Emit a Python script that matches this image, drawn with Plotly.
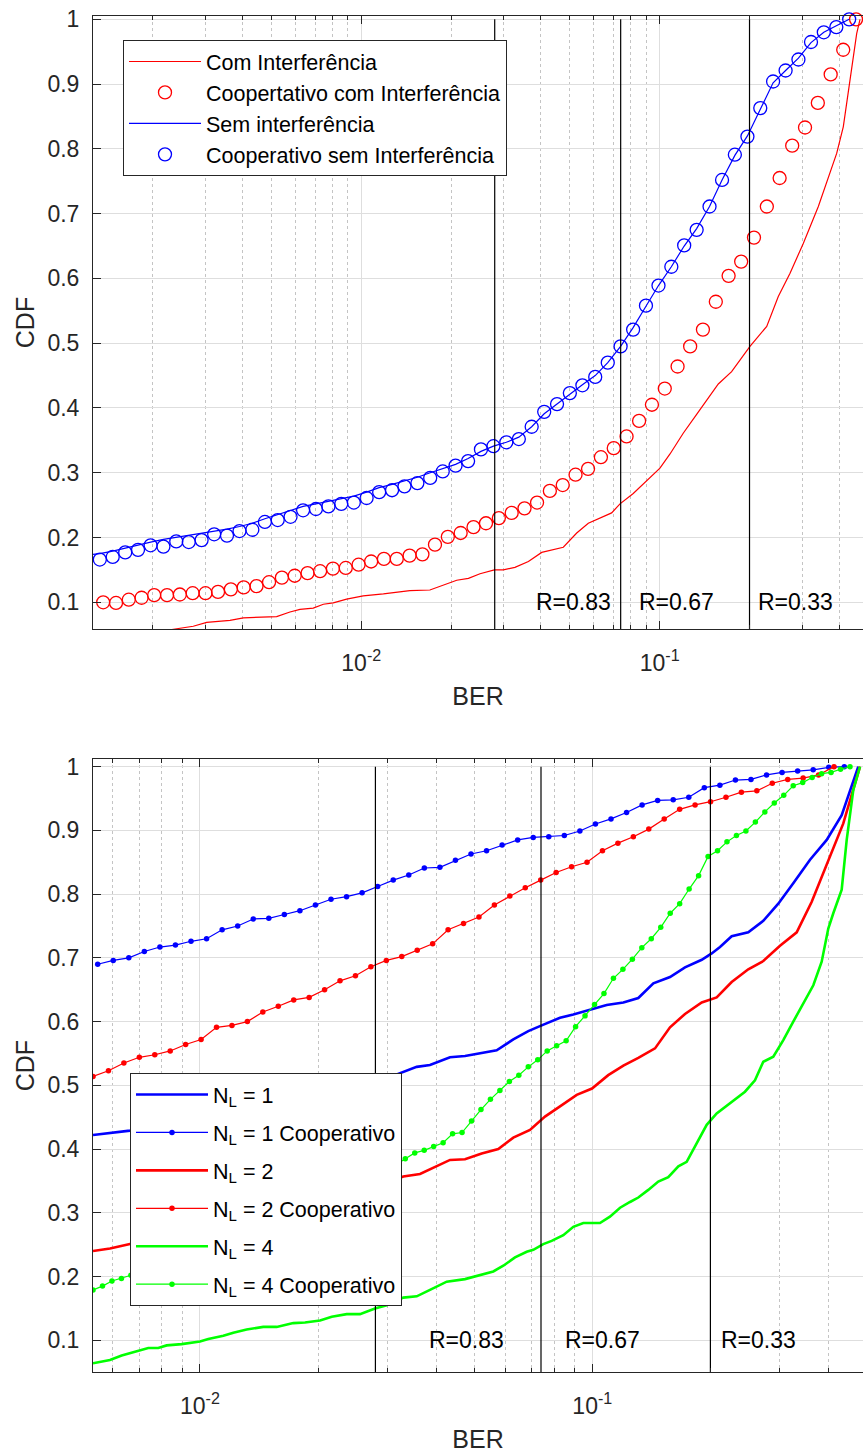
import numpy as np
import plotly.graph_objects as go

# ---------------- Top panel data ----------------
top_red_line_ber = [1.262e-3, 2.317e-3, 2.735e-3, 3.034e-3, 3.631e-3, 4.027e-3, 5.206e-3, 5.768e-3, 6.232e-3,
                    6.902e-3, 7.464e-3, 8.054e-3, 8.933e-3, 1.015e-2, 1.186e-2, 1.455e-2, 1.698e-2, 1.884e-2,
                    2.089e-2, 2.286e-2, 2.500e-2, 2.793e-2, 2.992e-2, 3.273e-2, 3.631e-2, 4.024e-2, 4.753e-2,
                    5.272e-2, 5.764e-2, 6.902e-2, 7.362e-2, 8.155e-2, 9.046e-2, 0.1002, 0.1083, 0.1199, 0.1330,
                    0.1455, 0.1572, 0.1742, 0.1858, 0.2007, 0.2284, 0.2497, 0.2734, 0.3028, 0.3401, 0.3673,
                    0.3918, 0.4123, 0.4285, 0.4399, 0.4572, 0.4691]
top_red_line_cdf = [0.045, 0.058, 0.063, 0.069, 0.072, 0.076, 0.078, 0.085, 0.089, 0.091, 0.097, 0.099, 0.105,
                    0.110, 0.113, 0.118, 0.119, 0.127, 0.134, 0.137, 0.144, 0.150, 0.150, 0.154, 0.163, 0.177,
                    0.185, 0.207, 0.222, 0.238, 0.252, 0.268, 0.288, 0.307, 0.329, 0.361, 0.390, 0.415, 0.437,
                    0.456, 0.474, 0.495, 0.526, 0.572, 0.608, 0.654, 0.711, 0.757, 0.793, 0.834, 0.886, 0.927,
                    0.978, 1.000]

top_red_coop_ber = [1.365e-3, 1.507e-3, 1.663e-3, 1.836e-3, 2.023e-3, 2.234e-3, 2.466e-3, 2.723e-3, 3.006e-3, 3.311e-3,
                    3.656e-3, 4.036e-3, 4.457e-3, 4.909e-3, 5.420e-3, 5.984e-3, 6.607e-3, 7.278e-3, 8.035e-3, 8.872e-3,
                    9.795e-3, 1.079e-2, 1.191e-2, 1.315e-2, 1.452e-2, 1.603e-2, 1.766e-2, 1.950e-2, 2.153e-2, 2.377e-2,
                    2.618e-2, 2.891e-2, 3.192e-2, 3.524e-2, 3.882e-2, 4.285e-2, 4.732e-2, 5.224e-2, 5.754e-2, 6.353e-2,
                    7.015e-2, 7.745e-2, 8.531e-2, 9.419e-2, 0.1040, 0.1148, 0.1265, 0.1396, 0.1542, 0.1702,
                    0.1875, 0.2070, 0.2286, 0.2523, 0.2780, 0.3069, 0.3388, 0.3741, 0.4121, 0.4550]
top_red_coop_cdf = [0.100, 0.099, 0.104, 0.107, 0.111, 0.111, 0.112, 0.114, 0.114, 0.116,
                    0.120, 0.123, 0.125, 0.131, 0.138, 0.141, 0.145, 0.148, 0.152, 0.153,
                    0.158, 0.163, 0.167, 0.167, 0.172, 0.174, 0.189, 0.201, 0.207, 0.216,
                    0.222, 0.230, 0.238, 0.245, 0.254, 0.272, 0.281, 0.297, 0.306, 0.324,
                    0.338, 0.356, 0.380, 0.405, 0.430, 0.464, 0.495, 0.521, 0.564, 0.604,
                    0.626, 0.663, 0.711, 0.755, 0.805, 0.833, 0.871, 0.915, 0.953, 1.000]

top_blue_line_ber = [1.262e-3, 1.330e-3, 1.469e-3, 1.618e-3, 1.786e-3, 1.968e-3, 2.173e-3, 2.399e-3, 2.642e-3,
                     2.917e-3, 3.214e-3, 3.548e-3, 3.908e-3, 4.315e-3, 4.753e-3, 5.248e-3, 5.794e-3, 6.383e-3,
                     7.047e-3, 7.762e-3, 8.570e-3, 9.441e-3, 1.042e-2, 1.148e-2, 1.268e-2, 1.396e-2, 1.542e-2,
                     1.702e-2, 1.875e-2, 2.070e-2, 2.280e-2, 2.518e-2, 2.773e-2, 3.062e-2, 3.373e-2, 3.724e-2,
                     4.102e-2, 4.529e-2, 5.000e-2, 5.508e-2, 6.081e-2, 6.699e-2, 7.396e-2, 8.147e-2, 8.995e-2,
                     9.908e-2, 0.1094, 0.1208, 0.1330, 0.1469, 0.1618, 0.1786, 0.1968, 0.2173, 0.2399, 0.2642,
                     0.2917, 0.3214, 0.3548, 0.3908, 0.4315]
top_blue_line_cdf = [0.174, 0.175, 0.179, 0.184, 0.189, 0.193, 0.197, 0.200, 0.203, 0.206, 0.210, 0.213, 0.217,
                     0.222, 0.229, 0.235, 0.241, 0.248, 0.252, 0.256, 0.260, 0.264, 0.270, 0.277, 0.282, 0.287,
                     0.293, 0.300, 0.306, 0.313, 0.322, 0.333, 0.341, 0.347, 0.355, 0.371, 0.391, 0.406, 0.422,
                     0.436, 0.450, 0.470, 0.495, 0.524, 0.557, 0.589, 0.618, 0.650, 0.677, 0.711, 0.752, 0.790,
                     0.820, 0.862, 0.902, 0.921, 0.940, 0.964, 0.980, 0.990, 1.000]

top_blue_coop_ber = [1.330e-3, 1.469e-3, 1.618e-3, 1.786e-3, 1.968e-3, 2.173e-3, 2.399e-3, 2.642e-3, 2.917e-3, 3.214e-3,
                     3.548e-3, 3.908e-3, 4.315e-3, 4.753e-3, 5.248e-3, 5.794e-3, 6.383e-3, 7.047e-3, 7.762e-3, 8.570e-3,
                     9.441e-3, 1.042e-2, 1.148e-2, 1.268e-2, 1.396e-2, 1.542e-2, 1.702e-2, 1.875e-2, 2.070e-2, 2.280e-2,
                     2.518e-2, 2.773e-2, 3.062e-2, 3.373e-2, 3.724e-2, 4.102e-2, 4.529e-2, 5.000e-2, 5.508e-2, 6.081e-2,
                     6.699e-2, 7.396e-2, 8.147e-2, 8.995e-2, 9.908e-2, 0.1094, 0.1208, 0.1330, 0.1469, 0.1618,
                     0.1786, 0.1968, 0.2173, 0.2399, 0.2642, 0.2917, 0.3214, 0.3548, 0.3908, 0.4315]
top_blue_coop_cdf = [0.166, 0.170, 0.177, 0.181, 0.188, 0.186, 0.194, 0.193, 0.196, 0.205,
                     0.203, 0.210, 0.212, 0.224, 0.227, 0.232, 0.242, 0.244, 0.248, 0.252,
                     0.254, 0.261, 0.270, 0.273, 0.279, 0.284, 0.292, 0.302, 0.311, 0.318,
                     0.336, 0.341, 0.347, 0.352, 0.371, 0.394, 0.406, 0.423, 0.435, 0.448,
                     0.470, 0.495, 0.521, 0.558, 0.589, 0.618, 0.651, 0.675, 0.711, 0.752,
                     0.791, 0.819, 0.863, 0.904, 0.921, 0.938, 0.965, 0.980, 0.988, 1.000]

# ---------------- Bottom panel data ----------------
bot_nl1_ber = [5.337e-3, 5.896e-3, 6.631e-3, 7.906e-3, 1.000e-2, 1.265e-2, 1.600e-2, 2.023e-2, 2.557e-2, 2.876e-2,
               3.235e-2, 3.568e-2, 3.857e-2, 4.012e-2, 4.338e-2, 4.737e-2, 5.225e-2, 5.705e-2, 6.290e-2, 6.868e-2,
               7.430e-2, 8.274e-2, 8.946e-2, 9.866e-2, 0.1088, 0.1200, 0.1310, 0.1431, 0.1578, 0.1723, 0.1901,
               0.2015, 0.2116, 0.2266, 0.2498, 0.2728, 0.2979, 0.3253, 0.3589, 0.3958, 0.4322, 0.4764]
bot_nl1_cdf = [0.422, 0.425, 0.429, 0.437, 0.447, 0.458, 0.468, 0.481, 0.495, 0.507,
               0.519, 0.529, 0.532, 0.536, 0.544, 0.546, 0.551, 0.555, 0.572, 0.585,
               0.594, 0.606, 0.611, 0.619, 0.626, 0.630, 0.637, 0.660, 0.670, 0.685, 0.697,
               0.707, 0.717, 0.734, 0.740, 0.758, 0.785, 0.817, 0.854, 0.885, 0.924, 1.000]

bot_nl1_coop_ber = [5.486e-3, 6.010e-3, 6.585e-3, 7.214e-3, 7.904e-3, 8.659e-3, 9.487e-3, 1.0394e-2, 1.1388e-2,
                    1.2476e-2, 1.3669e-2, 1.4976e-2, 1.6407e-2, 1.7975e-2, 1.9693e-2, 2.1576e-2, 2.3638e-2,
                    2.5898e-2, 2.8374e-2, 3.1086e-2, 3.4057e-2, 3.7313e-2, 4.0880e-2, 4.4787e-2, 4.9068e-2,
                    5.3759e-2, 5.8898e-2, 6.4528e-2, 7.0696e-2, 7.7454e-2, 8.4858e-2, 9.2970e-2, 0.10186,
                    0.11159, 0.12226, 0.13395, 0.14675, 0.16078, 0.17615, 0.19299, 0.21144, 0.23165, 0.25379,
                    0.27805, 0.30463, 0.33375, 0.36565, 0.40061, 0.43890]
bot_nl1_coop_cdf = [0.690, 0.696, 0.700, 0.710, 0.717, 0.720, 0.726, 0.730, 0.744, 0.750, 0.761, 0.762, 0.768,
                    0.774, 0.783, 0.792, 0.796, 0.802, 0.812, 0.822, 0.830, 0.841, 0.842, 0.853, 0.863, 0.868,
                    0.877, 0.885, 0.889, 0.890, 0.892, 0.899, 0.910, 0.918, 0.928, 0.940, 0.947, 0.948, 0.952,
                    0.967, 0.971, 0.979, 0.980, 0.987, 0.991, 0.993, 0.995, 0.999, 1.000]

bot_nl2_ber = [5.337e-3, 5.896e-3, 6.631e-3, 8.384e-3, 1.061e-2, 1.341e-2, 1.696e-2, 2.145e-2, 2.713e-2, 3.298e-2,
               3.638e-2, 3.857e-2, 4.338e-2, 4.737e-2, 5.225e-2, 5.759e-2, 6.290e-2, 6.937e-2, 7.575e-2, 8.274e-2,
               9.126e-2, 9.983e-2, 0.1098, 0.1200, 0.1310, 0.1445, 0.1578, 0.1723, 0.1901, 0.2075, 0.2266,
               0.2498, 0.2728, 0.3009, 0.3319, 0.3625, 0.3958, 0.4363, 0.4812]
bot_nl2_cdf = [0.240, 0.244, 0.251, 0.262, 0.275, 0.290, 0.305, 0.320, 0.338, 0.357,
               0.361, 0.368, 0.383, 0.384, 0.393, 0.400, 0.418, 0.430, 0.451, 0.467,
               0.485, 0.495, 0.516, 0.531, 0.543, 0.558, 0.591, 0.612, 0.630, 0.638, 0.662,
               0.682, 0.695, 0.719, 0.740, 0.788, 0.846, 0.911, 1.000]

bot_nl2_coop_ber = [5.338e-3, 5.844e-3, 6.398e-3, 7.005e-3, 7.669e-3, 8.397e-3, 9.193e-3, 1.0065e-2, 1.1019e-2,
                    1.2064e-2, 1.3208e-2, 1.4461e-2, 1.5833e-2, 1.7334e-2, 1.8978e-2, 2.0778e-2, 2.2749e-2,
                    2.4906e-2, 2.7268e-2, 2.9854e-2, 3.2685e-2, 3.5785e-2, 3.9179e-2, 4.2895e-2, 4.6963e-2,
                    5.1417e-2, 5.6293e-2, 6.1632e-2, 6.7477e-2, 7.3876e-2, 8.0882e-2, 8.8553e-2, 9.6951e-2,
                    0.10615, 0.11621, 0.12724, 0.13930, 0.15251, 0.16698, 0.18281, 0.20015, 0.21913, 0.23991,
                    0.26267, 0.28758, 0.31485, 0.34471, 0.37740, 0.41320]
bot_nl2_coop_cdf = [0.514, 0.523, 0.535, 0.544, 0.548, 0.554, 0.564, 0.572, 0.591, 0.594, 0.600, 0.615, 0.624,
                    0.634, 0.638, 0.650, 0.664, 0.672, 0.686, 0.696, 0.702, 0.712, 0.722, 0.744, 0.754, 0.764,
                    0.783, 0.797, 0.810, 0.822, 0.834, 0.843, 0.850, 0.868, 0.880, 0.890, 0.902, 0.918, 0.933,
                    0.940, 0.945, 0.952, 0.960, 0.962, 0.974, 0.980, 0.982, 0.987, 1.000]

bot_nl4_ber = [5.337e-3, 5.896e-3, 6.316e-3, 6.961e-3, 7.381e-3, 7.827e-3, 8.223e-3, 8.981e-3, 1.000e-2, 1.050e-2,
               1.147e-2, 1.216e-2, 1.315e-2, 1.450e-2, 1.569e-2, 1.729e-2, 1.852e-2, 2.023e-2, 2.167e-2, 2.366e-2,
               2.557e-2, 2.793e-2, 2.992e-2, 3.298e-2, 3.568e-2, 3.857e-2, 4.255e-2, 4.737e-2, 5.593e-2, 5.931e-2,
               6.353e-2, 6.804e-2, 7.073e-2, 7.500e-2, 7.878e-2, 8.436e-2, 8.946e-2, 9.485e-2, 0.1046, 0.1109,
               0.1177, 0.1248, 0.1310, 0.1389, 0.1473, 0.1562, 0.1657, 0.1740, 0.1846, 0.1957, 0.2075, 0.2200,
               0.2334, 0.2450, 0.2598, 0.2728, 0.2893, 0.3068, 0.3253, 0.3451, 0.3659, 0.3843, 0.3995, 0.4114,
               0.4322, 0.4451, 0.4625, 0.4812]
bot_nl4_cdf = [0.064, 0.069, 0.076, 0.083, 0.088, 0.088, 0.092, 0.094, 0.098, 0.102,
               0.107, 0.112, 0.117, 0.121, 0.121, 0.127, 0.128, 0.131, 0.137, 0.141,
               0.141, 0.150, 0.155, 0.167, 0.169, 0.179, 0.192, 0.196, 0.208, 0.217,
               0.230, 0.239, 0.242, 0.251, 0.256, 0.265, 0.278, 0.284, 0.284, 0.294,
               0.308, 0.317, 0.324, 0.336, 0.349, 0.356, 0.373, 0.380, 0.409, 0.438, 0.456, 0.468,
               0.480, 0.490, 0.508, 0.537, 0.545, 0.571, 0.600, 0.629, 0.657, 0.694, 0.746, 0.770,
               0.807, 0.885, 0.963, 1.000]

bot_nl4_coop_ber = [5.338e-3, 5.643e-3, 5.965e-3, 6.306e-3, 6.666e-3, 7.047e-3, 7.449e-3, 7.875e-3, 8.324e-3,
                    8.800e-3, 9.302e-3, 9.833e-3, 1.0395e-2, 1.0989e-2, 1.1616e-2, 1.2279e-2, 1.2980e-2,
                    1.3721e-2, 1.4505e-2, 1.5333e-2, 1.6209e-2, 1.7134e-2, 1.8113e-2, 1.9147e-2, 2.0240e-2,
                    2.1396e-2, 2.2618e-2, 2.3909e-2, 2.5275e-2, 2.6718e-2, 2.8244e-2, 2.9857e-2, 3.1562e-2,
                    3.3364e-2, 3.5269e-2, 3.7283e-2, 3.9412e-2, 4.1663e-2, 4.4042e-2, 4.6557e-2, 4.9216e-2,
                    5.2026e-2, 5.4997e-2, 5.8138e-2, 6.1458e-2, 6.4967e-2, 6.8677e-2, 7.2599e-2, 7.6745e-2,
                    8.1127e-2, 8.5760e-2, 9.0657e-2, 9.5834e-2, 0.10131, 0.10709, 0.11321, 0.11967, 0.12651,
                    0.13373, 0.14137, 0.14944, 0.15798, 0.16700, 0.17653, 0.18661, 0.19727, 0.20853, 0.22044,
                    0.23303, 0.24634, 0.26041, 0.27528, 0.29100, 0.30761, 0.32518, 0.34375, 0.36338, 0.38413,
                    0.40606, 0.42925, 0.45376]
bot_nl4_coop_cdf = [0.179, 0.185, 0.193, 0.197, 0.202, 0.207, 0.214, 0.220, 0.225, 0.232, 0.238, 0.243, 0.250,
                    0.257, 0.262, 0.268, 0.275, 0.280, 0.287, 0.293, 0.299, 0.305, 0.312, 0.318, 0.323, 0.330,
                    0.337, 0.342, 0.349, 0.356, 0.362, 0.368, 0.375, 0.385, 0.394, 0.398, 0.404, 0.410, 0.424,
                    0.426, 0.444, 0.462, 0.478, 0.492, 0.506, 0.516, 0.529, 0.540, 0.554, 0.562, 0.570, 0.592,
                    0.609, 0.627, 0.644, 0.668, 0.682, 0.698, 0.716, 0.730, 0.748, 0.770, 0.785, 0.808, 0.829,
                    0.859, 0.868, 0.882, 0.892, 0.899, 0.913, 0.929, 0.943, 0.955, 0.970, 0.975, 0.983, 0.989,
                    0.991, 0.996, 1.000]

# rate thresholds (vertical lines) and labels
rate_ber = [0.028, 0.074, 0.2]
rate_labels = ["R=0.83", "R=0.67", "R=0.33"]
rate_label_ber = [0.038, 0.084, 0.21]
rate_label_cdf = 0.1

ytick_vals = [0.1, 0.2, 0.3, 0.4, 0.5, 0.6, 0.7, 0.8, 0.9, 1.0]
ytick_text = ["0.1", "0.2", "0.3", "0.4", "0.5", "0.6", "0.7", "0.8", "0.9", "1"]
xtick_vals = [0.01, 0.1]
xtick_text = ["10<sup>-2</sup>", "10<sup>-1</sup>"]
minor_vals = [m * d for d in (0.001, 0.01, 0.1) for m in range(2, 10)]

RED, BLUE, GREEN = "#ff0000", "#0000ff", "#00ff00"
AX = "#262626"
FONT = "Liberation Sans, Arial, Helvetica, sans-serif"

fig = go.Figure()

# ---- top traces ----
fig.add_trace(go.Scatter(x=top_red_line_ber, y=top_red_line_cdf, mode="lines", name="Com Interferência",
                         line=dict(color=RED, width=1.2), xaxis="x", yaxis="y", legend="legend", legendgroup="a1"))
fig.add_trace(go.Scatter(x=top_red_coop_ber, y=top_red_coop_cdf, mode="markers", name="Coopertativo com Interferência",
                         marker=dict(symbol="circle-open", size=13, color=RED, line=dict(width=1.3)),
                         cliponaxis=False, xaxis="x", yaxis="y", legend="legend", legendgroup="a2"))
fig.add_trace(go.Scatter(x=top_blue_line_ber, y=top_blue_line_cdf, mode="lines", name="Sem interferência",
                         line=dict(color=BLUE, width=1.2), xaxis="x", yaxis="y", legend="legend", legendgroup="a3"))
fig.add_trace(go.Scatter(x=top_blue_coop_ber, y=top_blue_coop_cdf, mode="markers", name="Cooperativo sem Interferência",
                         marker=dict(symbol="circle-open", size=13, color=BLUE, line=dict(width=1.3)),
                         cliponaxis=False, xaxis="x", yaxis="y", legend="legend", legendgroup="a4"))

# ---- bottom traces ----
bottom = [
    (bot_nl1_ber, bot_nl1_cdf, "N<sub>L</sub> = 1", BLUE, False),
    (bot_nl1_coop_ber, bot_nl1_coop_cdf, "N<sub>L</sub> = 1 Cooperativo", BLUE, True),
    (bot_nl2_ber, bot_nl2_cdf, "N<sub>L</sub> = 2", RED, False),
    (bot_nl2_coop_ber, bot_nl2_coop_cdf, "N<sub>L</sub> = 2 Cooperativo", RED, True),
    (bot_nl4_ber, bot_nl4_cdf, "N<sub>L</sub> = 4", GREEN, False),
    (bot_nl4_coop_ber, bot_nl4_coop_cdf, "N<sub>L</sub> = 4 Cooperativo", GREEN, True),
]
for i, (bx, by, nm, col, coop) in enumerate(bottom):
    if coop:
        fig.add_trace(go.Scatter(x=bx, y=by, mode="lines+markers", name=nm,
                                 line=dict(color=col, width=1.2), marker=dict(size=5.5, color=col),
                                 xaxis="x2", yaxis="y2", legend="legend2", legendgroup="b%d" % i))
    else:
        fig.add_trace(go.Scatter(x=bx, y=by, mode="lines", name=nm, line=dict(color=col, width=2.6),
                                 xaxis="x2", yaxis="y2", legend="legend2", legendgroup="b%d" % i))

# vertical rate lines and labels on both panels
for xa, ya in (("x", "y"), ("x2", "y2")):
    for v in rate_ber:
        fig.add_trace(go.Scatter(x=[v, v], y=[0, 1], mode="lines", line=dict(color="black", width=1.2),
                                 showlegend=False, hoverinfo="skip", xaxis=xa, yaxis=ya))
    for lb, lx in zip(rate_labels, rate_label_ber):
        fig.add_annotation(x=np.log10(lx), y=rate_label_cdf, xref=xa, yref=ya, text=lb, showarrow=False,
                           xanchor="left", yanchor="middle", font=dict(family=FONT, size=23, color="black"))

H = 1454.0
W = 863.0
xdom = [93 / W, 1.0]


def xaxis_cfg(rng, anchor):
    return dict(type="log", domain=xdom, range=rng, anchor=anchor,
                showline=True, linecolor=AX, linewidth=1, mirror="ticks",
                ticks="inside", ticklen=8, tickwidth=1, tickcolor=AX,
                tickvals=xtick_vals, ticktext=xtick_text, tickfont=dict(family=FONT, size=23, color=AX),
                ticklabelstandoff=13,
                showgrid=True, gridcolor="#dedede", gridwidth=1, zeroline=False,
                minor=dict(tickvals=minor_vals, ticks="inside", ticklen=4, tickcolor=AX,
                           showgrid=True, gridcolor="#c4c4c4", griddash="dot", gridwidth=1),
                title=dict(text="BER", font=dict(family=FONT, size=25, color=AX), standoff=12),
                automargin=False)


def yaxis_cfg(dom, rng, anchor):
    return dict(domain=dom, range=rng, anchor=anchor,
                showline=True, linecolor=AX, linewidth=1, mirror=False,
                ticks="inside", ticklen=8, tickwidth=1, tickcolor=AX,
                tickvals=ytick_vals, ticktext=ytick_text, tickfont=dict(family=FONT, size=23, color=AX),
                ticklabelstandoff=8,
                showgrid=True, gridcolor="#dedede", gridwidth=1, zeroline=False,
                title=dict(text="CDF", font=dict(family=FONT, size=25, color=AX), standoff=5),
                automargin=False)


legend_common = dict(xanchor="left", yanchor="top", bgcolor="white", bordercolor=AX, borderwidth=1,
                     font=dict(family=FONT, size=21.5, color="black"), itemwidth=72, orientation="v")

fig.update_layout(
    width=863, height=1454, margin=dict(l=0, r=0, t=0, b=0),
    paper_bgcolor="white", plot_bgcolor="white",
    font=dict(family=FONT, size=23, color=AX),
    xaxis=xaxis_cfg([-2.899, -0.3187], "y"),
    yaxis=yaxis_cfg([1 - 629.3 / H, 1 - 15.7 / H], [0.0583, 1.0056], "x"),
    xaxis2=xaxis_cfg([-2.2727, -0.310], "y2"),
    yaxis2=yaxis_cfg([1 - 1372.3 / H, 1 - 759 / H], [0.0498, 1.012], "x2"),
    legend=dict(x=123 / W, y=1 - 40 / H, tracegroupgap=0, **legend_common),
    legend2=dict(x=130 / W, y=1 - 1073 / H, tracegroupgap=7, **legend_common),
    showlegend=True,
)

fig.write_html("out.html")
